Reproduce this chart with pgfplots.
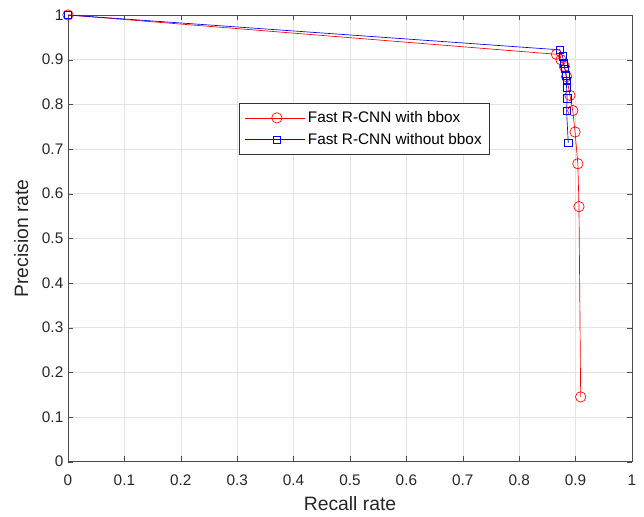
\documentclass[border=0pt]{standalone}
\usepackage{pgfplots}
\pgfplotsset{compat=1.18}
\usetikzlibrary{calc}
\usepackage{fontspec}
\setmainfont{Liberation Sans}
\begin{document}
\begin{tikzpicture}[x=0.75pt,y=0.75pt]
\begin{axis}[name=ax,
  scale only axis, width=423pt, height=335pt,
  xmin=0, xmax=1, ymin=0, ymax=1,
  xtick={0,0.1,...,1}, ytick={0,0.1,...,1},
  xticklabels={0,0.1,0.2,0.3,0.4,0.5,0.6,0.7,0.8,0.9,1},
  yticklabels={0,0.1,0.2,0.3,0.4,0.5,0.6,0.7,0.8,0.9,1},
  /pgf/number format/assume math mode=true,
  tick label style={font=\fontsize{11.5}{13}\selectfont, text=black!85},
  xticklabel style={anchor=base, yshift=-18pt},
  label style={font=\fontsize{14.5}{16}\selectfont, text=black!85},
  xlabel={Recall rate}, ylabel={Precision rate},
  xlabel style={at={(axis description cs:0.5,-0.1097)}, anchor=base},
  ylabel style={at={(axis description cs:-0.0709,0.5)}, anchor=base},
  grid=major, major grid style={gray!22, line width=0.4pt},
  tick align=inside, major tick length=4pt,
  axis line style={black!70, line width=0.5pt},
  tick style={black!70},
  legend style={at={(0.303,0.803)}, anchor=north west, font=\fontsize{11.5}{13}\selectfont,
    draw=black!80, line width=0.5pt, inner xsep=4pt, inner ysep=4pt, row sep=2.5pt},
  legend cell align=left,
  legend image code/.code={
    \path (-5pt,0pt) -- (40pt,0pt);
    \draw[mark repeat=2, mark phase=2, #1] plot coordinates {(0pt,0pt) (19pt,0pt) (38pt,0pt)};
  },
]
\addplot[red, line width=0.5pt, mark=o, mark size=3.9pt, mark options={line width=0.5pt}] coordinates {
(0,1) (0.866,0.912) (0.874,0.900) (0.880,0.885) (0.884,0.862) (0.890,0.820) (0.895,0.786) (0.899,0.738) (0.904,0.667) (0.906,0.571) (0.909,0.145)};
\addlegendentry{Fast R-CNN with bbox}
\addplot[blue, line width=0.5pt, mark=square, mark size=2.8pt, mark options={line width=0.5pt}] coordinates {
(0,1) (0.872,0.922) (0.877,0.907) (0.879,0.892) (0.881,0.880) (0.883,0.865) (0.884,0.853) (0.884,0.838) (0.885,0.813) (0.884,0.785) (0.887,0.714)};
\addlegendentry{Fast R-CNN without bbox}
\end{axis}
\path ($(ax.south west)+(-68,-55)$) rectangle ($(ax.north east)+(12,15)$);
\end{tikzpicture}
\end{document}
